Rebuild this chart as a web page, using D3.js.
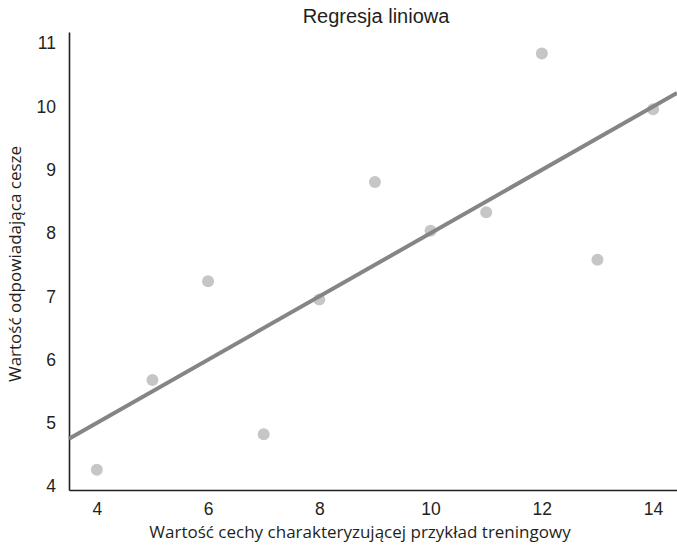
<!DOCTYPE html>
<html>
<head>
<meta charset="utf-8">
<script src="https://cdn.jsdelivr.net/npm/d3@7"></script>
<style>
  body { margin: 0; background: #fff; }
  svg { display: block; }
</style>
</head>
<body>
<div id="chart"></div>
<script>
// data points (x, y)
const xValues = [10, 8, 13, 9, 11, 14, 6, 4, 12, 7, 5];
const yValues = [8.04, 6.95, 7.58, 8.81, 8.33, 9.96, 7.24, 4.26, 10.84, 4.82, 5.68];
// regression line y = a + b*x
const lineCoef = [3.0, 0.5];
const xTicks = [4, 6, 8, 10, 12, 14];
const yTicks = [4, 5, 6, 7, 8, 9, 10, 11];

const width = 677, height = 546;
const margin = { top: 32, right: 0, bottom: 56, left: 69 };

const svg = d3
  .select("#chart")
  .append("svg")
  .attr("width", width)
  .attr("height", height);

const x = d3.scaleLinear().domain([3.5, 14.43]).range([margin.left, width - margin.right]);
const y = d3.scaleLinear().domain([3.94, 11.18]).range([height - margin.bottom, margin.top]);

//axes
const xAxis = svg
  .append("g")
  .attr("transform", `translate(0,${height - margin.bottom})`)
  .call(d3.axisBottom(x).tickValues(xTicks).tickSize(0).tickPadding(13).tickSizeOuter(0));

const yAxis = svg
  .append("g")
  .attr("transform", `translate(${margin.left},0)`)
  .call(d3.axisLeft(y).tickValues(yTicks).tickSize(0).tickPadding(13).tickSizeOuter(0));

[xAxis, yAxis].forEach((ax) => {
  ax.select(".domain").attr("stroke", "#231f20").attr("stroke-width", 1.6);
  ax.selectAll("text")
    .attr("fill", "#231f20")
    .style("font-family", "'Liberation Sans', Arial, sans-serif")
    .style("font-size", "17.5px");
});

//points
svg
  .append("g")
  .selectAll("circle")
  .data(xValues)
  .join("circle")
  .attr("cx", (d) => x(d))
  .attr("cy", (d, i) => y(yValues[i]))
  .attr("r", 6)
  .attr("fill", "#c6c6c6");

//regression line
const xEnds = x.domain();
svg
  .append("path")
  .attr("fill", "none")
  .attr("stroke", "#858585")
  .attr("stroke-width", 4)
  .attr("d", d3.line()
    .x((d) => x(d))
    .y((d) => y(lineCoef[0] + lineCoef[1] * d))(xEnds));

//title and labels
svg
  .append("text")
  .attr("x", 376)
  .attr("y", 23)
  .attr("text-anchor", "middle")
  .attr("fill", "#231f20")
  .style("font-family", "'Liberation Sans', Arial, sans-serif")
  .style("font-size", "20px")
  .text("Regresja liniowa");

svg
  .append("text")
  .attr("x", 360)
  .attr("y", 538)
  .attr("text-anchor", "middle")
  .attr("fill", "#231f20")
  .style("font-family", "'Open Sans', sans-serif")
  .style("font-size", "17px")
  .text("Wartość cechy charakteryzującej przykład treningowy");

svg
  .append("text")
  .attr("transform", "translate(21,264) rotate(-90)")
  .attr("text-anchor", "middle")
  .attr("fill", "#231f20")
  .style("font-family", "'Open Sans', sans-serif")
  .style("font-size", "17px")
  .text("Wartość odpowiadająca cesze");
</script>
</body>
</html>
